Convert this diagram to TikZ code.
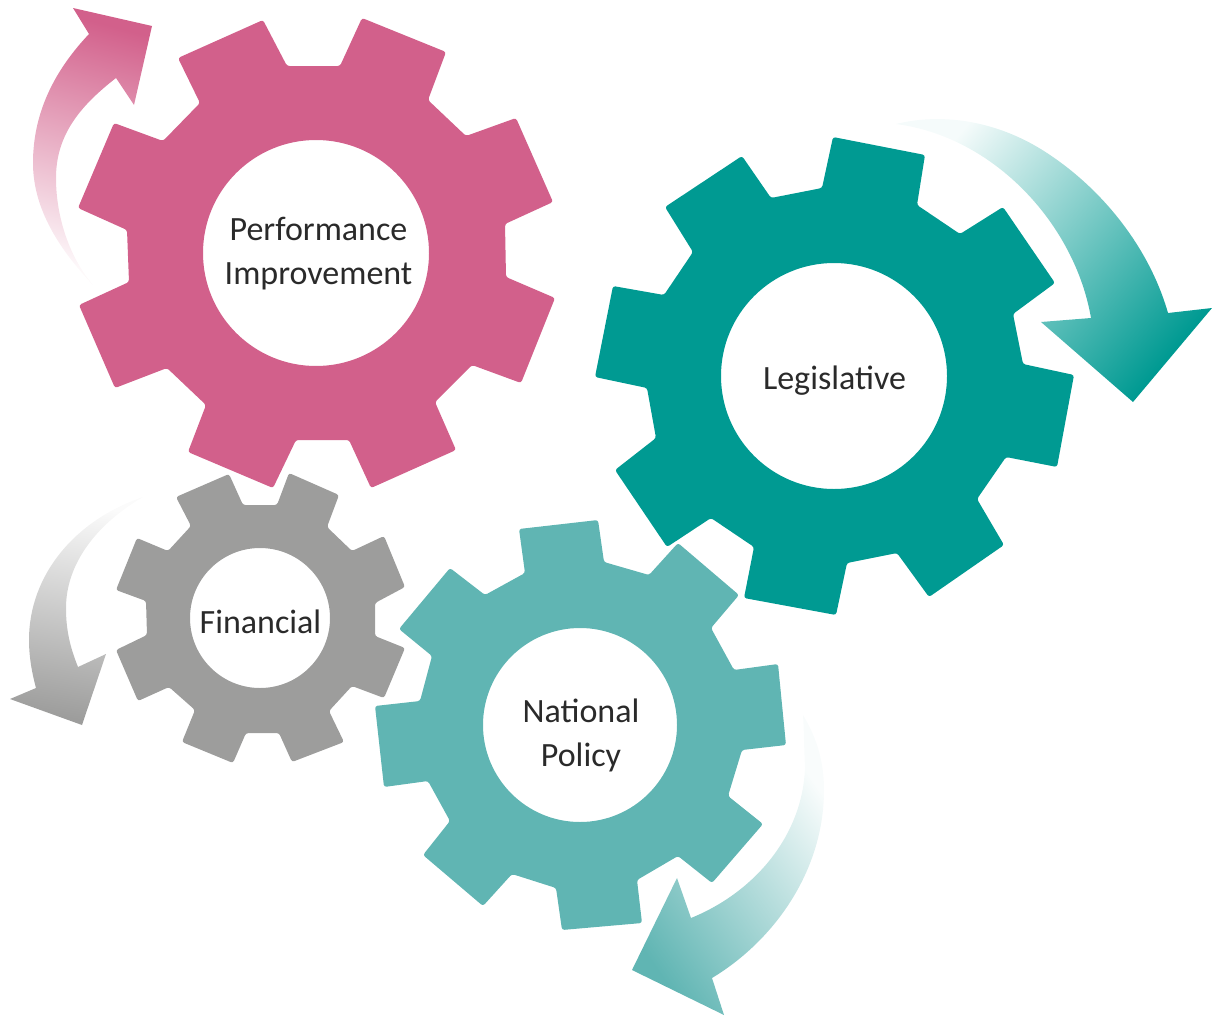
\documentclass[tikz,border=0pt]{standalone}
\usepackage{fontspec}
\setmainfont{Carlito}
\definecolor{gearpink}{HTML}{D2608B}
\definecolor{gearteal}{HTML}{009A92}
\definecolor{gearlight}{HTML}{60B5B3}
\definecolor{geargray}{HTML}{9D9D9C}
\definecolor{labeltext}{HTML}{2A2A2A}
\tikzset{
  gearbody/.style={rounded corners=2.5pt,even odd rule},
  gearlabel/.style={text=labeltext,align=center,font=\fontsize{34}{44}\selectfont,inner sep=0pt},
  fadearrow/.style={bottom color=#1!4,top color=#1}
}
\begin{document}
\begin{tikzpicture}[x=1pt,y=-1pt]
\useasboundingbox (0,0) rectangle (1212,1017);
% arrows
\shade[fadearrow=gearpink,shading angle=-15]
 (93,285) .. controls (55,245) and (33,205) .. (33,163)
 .. controls (33,112) and (55,70) .. (89,34)
 -- (73,8) -- (152,26) -- (134,105) -- (116,78)
 .. controls (80,106) and (56,135) .. (56,178)
 .. controls (56,218) and (70,258) .. (93,285) -- cycle;
\shade[fadearrow=gearteal,shading angle=-130]
 (896,124) .. controls (945,112) and (1000,122) .. (1047,153)
 .. controls (1105,191) and (1150,250) .. (1168,313)
 -- (1212,308) -- (1133,402) -- (1041,322) -- (1091,318)
 .. controls (1075,225) and (995,137) .. (896,124) -- cycle;
\shade[fadearrow=geargray,shading angle=170]
 (143,497) .. controls (75,520) and (29,575) .. (29,640)
 .. controls (29,657) and (32,673) .. (36,688)
 -- (10,699) -- (82,725) -- (106,654) -- (78,667)
 .. controls (70,647) and (66,630) .. (66,608)
 .. controls (66,565) and (95,525) .. (143,497) -- cycle;
\shade[fadearrow=gearlight,shading angle=125]
 (803,715) .. controls (817,738) and (824,762) .. (824,790)
 .. controls (824,870) and (775,940) .. (712,978)
 -- (724,1015) -- (632,970) -- (677,878) -- (691,918)
 .. controls (755,892) and (803,835) .. (805,767)
 .. controls (804,748) and (804,730) .. (803,715) -- cycle;
% gears
\fill[gearpink,gearbody]
 (178,58) -- (263,20) -- (287,66) -- (340,66) -- (362,18) -- (446,52) -- (428,100) -- (466,136)
 -- (516,118) -- (553,202) -- (505,224) -- (506,277) -- (555,298) -- (521,383) -- (472,365)
 -- (435,402) -- (456,450) -- (371,488) -- (349,440) -- (296,440) -- (273,488) -- (188,452)
 -- (206,405) -- (167,368) -- (115,388) -- (79,305) -- (129,282) -- (127,230) -- (78,208)
 -- (114,123) -- (163,141) -- (200,103) -- cycle
 (316,253) circle[radius=113];
\fill[gearteal,gearbody]
 (833,137) -- (925,155) -- (917,205) -- (960,234) -- (1003,207) -- (1055,283) -- (1013,314)
 -- (1023,364) -- (1074,375) -- (1057,467) -- (1006,457) -- (977,499) -- (1004,545) -- (929,597)
 -- (897,553) -- (847,563) -- (836,615) -- (744,598) -- (754,547) -- (711,518) -- (667,547)
 -- (615,470) -- (656,438) -- (647,388) -- (595,377) -- (613,286) -- (664,295) -- (693,252)
 -- (665,207) -- (742,156) -- (771,198) -- (822,188) -- cycle
 (834,376) circle[radius=113];
\fill[geargray,gearbody]
 (176,497) -- (229,474) -- (243,505) -- (277,505) -- (289,473) -- (339,495) -- (327,527)
 -- (352,551) -- (384,536) -- (405,587) -- (375,603) -- (375,636) -- (405,648) -- (384,698)
 -- (352,686) -- (329,711) -- (344,742) -- (292,762) -- (279,733) -- (246,733) -- (233,763)
 -- (182,742) -- (195,710) -- (169,687) -- (138,701) -- (116,650) -- (147,635) -- (146,601)
 -- (116,590) -- (137,538) -- (168,551) -- (191,526) -- cycle
 (260,618) circle[radius=70];
\fill[gearlight,gearbody]
 (519,529) -- (598,520) -- (604,562) -- (649,575) -- (678,543) -- (739,595) -- (711,628)
 -- (734,670) -- (778,664) -- (786,745) -- (742,750) -- (728,796) -- (763,824) -- (712,883)
 -- (678,856) -- (637,880) -- (642,923) -- (562,930) -- (556,888) -- (512,874) -- (483,906)
 -- (423,855) -- (450,821) -- (428,781) -- (384,787) -- (375,706) -- (420,701) -- (432,656)
 -- (399,629) -- (450,568) -- (485,595) -- (525,573) -- cycle
 (580,725) circle[radius=97];
% labels
\node[gearlabel] (perf) at (318.5,254) {Performance\\Improvement};
\node[gearlabel] (legis) at (834.5,381) {Legislative};
\node[gearlabel] (fin) at (260.5,622) {Financial};
\node[gearlabel] (natl) at (581,735) {National\\Policy};
\end{tikzpicture}
\end{document}
